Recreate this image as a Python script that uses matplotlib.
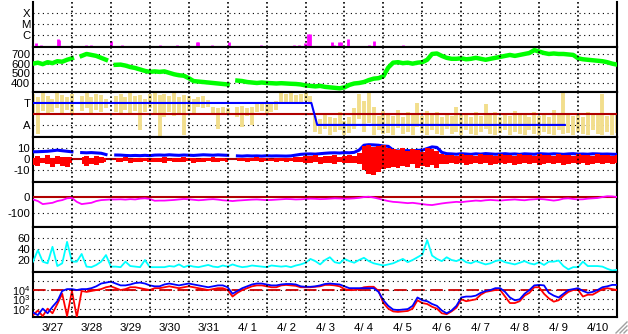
import numpy as np
import matplotlib
matplotlib.use('Agg')
import matplotlib.pyplot as plt
from matplotlib.lines import Line2D

plt.rcParams['font.family'] = ['Liberation Sans', 'DejaVu Sans']
plt.rcParams['mathtext.fontset'] = 'custom'
plt.rcParams['mathtext.rm'] = 'Liberation Sans'
plt.rcParams['mathtext.it'] = 'Liberation Sans'

nan = np.nan

# ---------------- data ----------------
# x axis: days since 3/27 00:00 ; 3-hourly samples for the continuous series
t3h = np.arange(121) * 0.125
day_labels = ['3/27', '3/28', '3/29', '3/30', '3/31', '4/ 1', '4/ 2', '4/ 3',
              '4/ 4', '4/ 5', '4/ 6', '4/ 7', '4/ 8', '4/ 9', '4/10']

# X-ray flare events (time in days, log10 peak flux)
flare_t = [0.08, 0.20, 0.64, 0.67, 1.37, 1.49, 2.00, 2.29, 3.25, 3.71, 4.20, 4.24,
           4.61, 5.03, 5.85, 6.70, 6.83, 6.98, 7.07, 7.11, 7.19, 7.25, 7.68, 7.73,
           7.86, 7.90, 8.10, 8.63, 8.76, 9.51]
flare_log = [-6.73, -6.95, -6.36, -6.45, -6.90, -6.90, -6.55, -6.95, -6.90, -6.90,
             -6.64, -6.60, -6.90, -6.60, -6.90, -6.95, -6.95, -6.73, -5.90, -5.90,
             -7.00, -7.00, -6.60, -6.90, -6.64, -6.64, -6.32, -6.95, -6.55, -6.95]
flare_labels = ['X', 'M', 'C']

# solar wind speed (km/s)
speed = [600, 610, 595, 615, 605, 625, 620, 640, 655,
         nan,
         680, 700, 690, 680, 660, 640,
         nan,
         588, 590, 580, 565, 555, 540, 525, 515,
         520, 515, 520, 505, 490, 480, 475, 450, 420, 415, 410, 405, 400, 395, 390, 385,
         nan,
         425, 420, 410, 405, 400, 405, 400, 398, 395, 398, 395, 392, 390, 385,
         375, 370, 365, 370, 360, 355, 350, 345, 355, 380, 395, 400, 410, 430, 445, 450, 470,
         560, 610, 615, 605, 610, 600, 610, 615, 640, 700, 705, 680,
         660, 650, 650, 655, 645, 650, 660, 650, 640, 650, 660, 670, 680, 690, 680, 690,
         700, 710, 740, 725, 710, 700, 705, 700, 700, 695, 690, 655, 645, 640, 635, 630,
         625, 615, 600, 590]
speed_ticks = [700, 600, 500, 400]

# IMF angle (T = toward +1, A = away -1): 3-hourly ranges
ang_hi = [1.8, 1.5, 1.9, 1.6, 1.4, 1.9, 1.7, 1.5, 1.8,
          nan,
          1.6, 1.9, 1.5, 1.8, 1.7, 1.4,
          nan,
          1.6, 1.8, 1.5, 1.9, 1.6, 1.7, 1.4, 1.8,
          1.9, 1.7, 1.8, 1.6, 1.9, 1.5, 1.7, 1.6,
          1.4, 1.5, 1.6, 1.3,
          0.6, 0.5, 0.6, 0.5,
          nan,
          0.6, 0.7, 0.5, 0.6,
          1.0, 1.1, 1.0, 0.9, 1.2,
          1.9, 1.8, 1.9, 1.7, 1.8, 1.9, 1.6,
          -0.2, -0.5, 0.1, -0.3, -0.4, 0.2, -0.6, -0.3, 0.5, 1.8, 1.2, 1.9, 0.6, -0.2, 0.3,
          0.1, -0.2, 0.4, -0.3, 0.2, -0.1, 1.0, -0.2, 0.3, -0.1, 0.2, -0.3, 0.0, -0.2,
          0.6, -0.1, 0.1, -0.3, 0.2, -0.2, 0.9, -0.1, 0.2, -0.3, 0.1, -0.2, 0.3, -0.1,
          0.0, -0.3, 0.2, -0.2, 0.1, -0.3, 0.4, -0.1, 1.9, 0.0, -0.2, 0.1, -0.3, 0.2,
          -0.1, 0.0, 1.8, -0.2, 0.1, -0.1]
ang_lo = [0.1, -1.8, 0.3, 0.0, 0.2, 0.5, 0.0, 0.4, 0.1,
          nan,
          0.3, 0.5, 0.0, 0.4, 0.2, 0.5,
          nan,
          0.2, 0.0, 0.4, 0.1, 0.3, -1.5, 0.2, 0.5,
          0.0, -2.0, -0.3, 0.2, -0.2, 0.1, -1.9, 0.3,
          0.0, 0.6, 0.5, 0.6,
          0.1, -1.4, 0.1, 0.0,
          nan,
          -0.3, -1.2, -0.2, -1.0,
          0.2, 0.3, 0.1, 0.2, 0.4,
          1.0, 1.1, 0.9, 1.0, 1.1, 1.2, 1.0,
          -1.6, -1.8, -1.4, -1.9, -1.6, -1.5, -1.9, -1.7, -1.4, -0.5, -1.6, -0.8, -1.9, -1.5, -1.8,
          -1.7, -1.9, -1.3, -1.8, -1.6, -1.9, -1.2, -1.7, -1.9, -1.5, -1.8, -1.9, -1.4, -1.8,
          -1.6, -1.9, -1.5, -1.8, -1.9, -1.6, -1.4, -1.8, -1.9, -1.7, -1.5, -1.9, -1.6, -1.8,
          -1.9, -1.5, -1.8, -1.9, -1.6, -1.8, -1.9, -1.5, -1.8, -1.7, -1.9, -1.6, -1.8, -1.9,
          -1.5, -1.8, -1.9, -1.6, -1.9, -1.7]
sector_t = [0.0, 7.15, 7.30, 13.66]
sector_v = [1, 1, -1, -1]
ang_labels = ['T', 'A']

# IMF |B| (nT)
bt = [6.5, 6.6, 6.8, 7.0, 7.5, 8.0, 7.5, 7.0, 6.5,
      nan,
      5.8, 5.6, 5.8, 5.5, 5.2, 4.0,
      nan,
      3.6, 3.5, 3.2, 3.0, 3.2, 3.0, 3.3, 3.0,
      3.5, 3.6, 3.4, 3.8, 3.5, 3.3, 3.6, 3.4, 3.2, 3.5, 3.8, 3.6, 3.4, 3.7, 3.5, 3.3,
      nan,
      2.8, 2.6, 2.9, 2.7, 2.8, 2.6, 2.9, 2.7, 2.8, 2.7, 2.6, 2.8, 3.5, 4.2,
      4.5, 4.6, 4.4, 4.8, 5.2, 5.5, 5.6, 5.4, 5.8, 5.6, 6.0,
      8.0, 12.5, 13.0, 12.8, 12.5, 11.8, 11.5,
      8.0, 7.2, 7.5, 7.6, 7.3, 7.8, 8.0, 9.5, 11.0, 10.5,
      6.0, 4.8,
      4.6, 4.3, 4.8, 4.5, 4.2, 4.7, 4.4, 4.9, 4.6, 4.3, 4.5, 4.8, 4.4, 4.6, 4.2, 4.7,
      4.5, 4.3, 4.8, 4.6, 4.4, 4.7, 4.5, 4.2, 4.6, 4.8, 4.4, 4.5, 4.3, 4.7, 4.6, 4.4,
      4.5, 4.3, 4.2]
# IMF Bz range per 3 h (nT)
bz_hi = [1.0, 2.5, 0.5, 4.0, 1.0, 3.0, 2.0, 1.5, 2.0,
         nan,
         2.0, 3.0, 1.0, 2.5, 1.5, 0.5,
         nan,
         1.0, 0.5, 1.5, 0.0, 1.0, 0.5, 1.0, 0.0,
         1.0, 0.5, 1.5, 0.0, 1.0, 0.5, 1.5, 0.5, 1.0, 0.0, 1.0, 0.5, 1.5, 0.5, 1.0, 0.0,
         nan,
         1.0, 0.5, 1.0, 0.5, 1.5, 0.5, 1.0, 0.0, 1.0, 0.5, 1.0, 0.5, 1.5, 2.0,
         3.0, 2.5, 3.5, 2.0, 3.0, 2.5, 3.5, 2.0, 3.0, 4.0, 3.0,
         5.0, 12.0, 13.0, 11.0, 12.0, 13.0, 10.0,
         9.0, 8.0, 10.0, 7.0, 9.0, 8.0, 6.0, 10.0, 9.0, 7.0,
         4.5, 3.5, 4.0, 3.0, 4.5, 3.5, 4.0, 3.0, 4.5, 3.5, 4.0, 3.0, 4.5, 3.5, 4.0, 3.0,
         4.5, 3.5, 4.0, 3.0, 4.5, 3.5, 4.0, 3.0, 4.5, 3.5, 4.0, 3.0, 4.5, 3.5, 4.0, 3.0,
         4.5, 3.5, 4.0, 3.0, 3.5]
bz_lo = [-5.5, -6.0, -4.0, -5.0, -7.0, -4.5, -6.5, -7.5, -4.0,
         nan,
         -5.0, -6.0, -4.5, -5.5, -4.0, -3.0,
         nan,
         -2.5, -3.0, -2.0, -3.5, -2.5, -3.0, -2.0, -3.0,
         -3.0, -2.5, -3.5, -2.0, -3.0, -2.5, -3.0, -2.0, -3.5, -2.5, -3.0, -2.0, -2.5, -3.0, -2.0, -3.0,
         nan,
         -2.0, -1.5, -2.5, -2.0, -1.5, -2.5, -2.0, -1.5, -2.5, -2.0, -3.0, -2.0, -2.5, -3.0,
         -3.5, -4.0, -3.0, -4.5, -3.5, -4.0, -4.5, -3.0, -4.0, -3.5, -4.0,
         -5.0, -10.0, -14.0, -15.0, -12.0, -9.0, -8.0,
         -7.0, -8.0, -6.0, -7.5, -5.0, -8.0, -6.0, -7.0, -5.5, -8.0,
         -5.0, -4.5, -3.5, -5.0, -4.0, -5.5, -4.5, -3.5, -5.0, -4.0, -5.5, -4.5, -3.5, -5.0, -4.0, -5.5,
         -4.5, -3.5, -5.0, -4.0, -5.5, -4.5, -3.5, -5.0, -4.0, -5.5, -4.5, -3.5, -5.0, -4.0, -5.5, -4.5,
         -3.5, -5.0, -4.0, -5.0, -4.0]
bz_ticks = [10, 0, -10]

# Dst index (nT)
dst = [-15, -25, -44, -40, -36, -25, -19, -8, -6,
       -30, -44, -40, -36, -25, -19, -17, -15, -15, -14, -16, -13, -15, -10, -8, -12, -23, -22,
       -22, -20, -18, -15, -12, -14, -17, -20, -18, -15, -13, -16, -20, -22,
       -25, -22, -20, -18, -16, -15, -17, -19, -18, -16, -14, -12, -13, -15, -14,
       -12, -10, -11, -13, -12, -10, -8, -9, -11, -10, -8, -5, 0, 2, -3, -10, -18,
       -25, -30, -32, -35, -38, -36, -40, -44, -48, -50, -45, -40, -36, -33, -30, -32, -28, -25,
       -22, -24, -20, -18, -20, -22, -19, -17, -15, -18, -20, -16, -14, -12, -14, -18, -22, -18,
       -10, -8, -12, -15, -14, -10, -8, -6, 0, 5, 4, 0]
dst_ticks = [0, -100]

# geomagnetic activity index
act = [17, 38, 17, 14, 44, 9, 14, 53, 17, 17, 31, 8, 7, 11, 17, 29, 8, 8, 7, 17, 9, 8, 7, 20, 7, 7, 7,
       7, 9, 8, 12, 7, 10, 8, 7, 9, 11, 8, 7, 10, 8,
       12, 9, 7, 8, 10, 9, 8, 7, 10, 9, 8, 9, 7, 10, 12,
       15, 22, 18, 12, 20, 25, 16, 14, 22, 18, 15, 20, 24, 18, 14, 12, 10,
       12, 14, 18, 22, 16, 20, 25, 30, 56, 28, 22, 18, 25, 20, 18, 22, 16, 14,
       18, 15, 12, 14, 18, 20, 16, 14, 12, 15, 18, 14, 12, 16, 11, 17, 17, 19, 9, 3,
       7, 7, 17, 9, 9, 9, 8, 4, 1, 2]
act_ticks = [60, 40, 20]

# electron flux, log10 (two satellites)
flux_blue = [1.6, 1.3, 2.0, 1.5, 2.2, 2.8, 3.9, 4.1, 4.1, 4.0, 4.1, 4.1, 4.2, 4.4, 4.7, 4.8,
             4.9, 4.7, 4.5, 4.5, 4.6, 4.75, 4.8, 4.7, 4.5, 4.4,
             4.4, 4.6, 4.7, 4.6, 4.5, 4.6, 4.7, 4.6, 4.5, 4.4, 4.3, 4.4, 4.5, 4.5, 4.3,
             3.6, 3.9, 4.2, 4.4, 4.6, 4.7, 4.7, 4.6, 4.5, 4.5, 4.6, 4.65, 4.65, 4.6, 4.4,
             4.35, 4.35, 4.4, 4.5, 4.65, 4.7, 4.65, 4.6, 4.4, 4.2, 4.2, 4.2, 4.2, 4.2, 4.2,
             3.8, 2.9, 2.3, 1.9, 1.85, 1.9, 1.95, 2.3, 3.2, 2.9, 2.8, 2.5, 2.3, 1.8, 1.5,
             1.8, 2.3, 3.2, 3.3, 3.3, 3.4, 3.7, 3.9, 4.0, 4.2, 4.2, 3.8, 3.2, 2.9, 3.0,
             3.6, 4.0, 4.5, 4.55, 4.5, 3.7, 3.4, 3.2, 3.6, 4.0, 4.1, 4.2, 3.9, 3.7, 3.8,
             4.0, 4.3, 4.4, 4.55, 4.55]
flux_red = [1.3, 1.8, 1.2, 2.0, 1.5, 2.5, 3.6, 1.2, 3.9, 1.1, 3.9, 3.8, 3.9, 4.0, 4.1, 4.3,
            4.4, 4.2, 4.0, 4.1, 4.3, 4.3, 4.2, 4.1, 4.0, 4.2,
            4.2, 4.3, 4.4, 4.3, 4.2, 4.3, 4.4, 4.3, 4.2, 4.1, 4.0, 4.1, 4.2, 4.2, 4.0,
            3.3, 3.7, 4.0, 4.2, 4.4, 4.5, 4.5, 4.4, 4.3, 4.3, 4.5, 4.55, 4.5, 4.45, 4.3,
            4.3, 4.3, 4.35, 4.4, 4.55, 4.55, 4.5, 4.4, 4.1, 4.0, 4.0, 4.1, 4.3, 4.35, 4.35,
            3.9, 2.6, 2.0, 1.7, 1.65, 1.7, 1.75, 2.0, 2.9, 2.6, 2.5, 2.2, 2.0, 1.5, 1.4,
            1.7, 2.1, 3.0, 2.8, 2.9, 3.0, 3.5, 3.8, 3.9, 4.0, 4.0, 3.3, 2.6, 2.6, 2.8,
            3.4, 3.7, 4.3, 4.3, 3.6, 3.1, 2.75, 2.9, 3.4, 3.8, 4.0, 4.0, 3.3, 3.5, 3.5,
            3.8, 4.1, 4.2, 4.1, 4.0]
flux_threshold = 1e4
flux_ticks = [1e4, 1e3, 1e2]
flux_grid = [1e5, 1e4, 1e3, 1e2]

# ---------------- drawing ----------------
W, H = 628, 334
fig = plt.figure(figsize=(W / 100, H / 100), dpi=100)
fig.patch.set_facecolor('white')

FS = 8.2
x0, x1 = 33, 617
tops = [2 + 45 * k for k in range(7)]
axes = []
for k, top in enumerate(tops):
    ax = fig.add_axes([x0 / W, 1 - (top + 45) / H, (x1 - x0) / W, 45 / H])
    ax.set_xlim(0, 15)
    ax.set_facecolor('white')
    for s in ax.spines.values():
        s.set_linewidth(1.5)
        s.set_color('black')
    if k == 0:
        ax.spines['top'].set_visible(False)
    ax.tick_params(axis='both', length=0, pad=2.0, labelsize=FS, colors='black')
    ax.set_xticks([])
    for d in range(1, 15):
        ax.axvline(d, color='black', lw=1.2, ls=(0, (1, 1.6)), zorder=6)
    axes.append(ax)

dot = dict(color='black', lw=0.8, ls=(0, (1, 3.2)), zorder=1)
darkred = '#B00000'

# 1: flares
ax = axes[0]
ax.set_yscale('log')
ax.set_ylim(10 ** -7.09, 10 ** -3.0)
flare_flux = [10 ** v for v in flare_log]
ax.vlines(flare_t, 10 ** -7.09, flare_flux, color='#FF00FF', lw=2.0, zorder=4)
ax.set_yticks([1e-4, 1e-5, 1e-6])
ax.set_yticklabels(flare_labels)
ax.yaxis.set_minor_locator(matplotlib.ticker.NullLocator())
for v in [1e-4, 1e-5, 1e-6]:
    ax.axhline(v, **dot)

# 2: speed
ax = axes[1]
ax.set_ylim(307, 772)
ax.plot(t3h, speed, color='#00FF00', lw=3.2, zorder=4)
ax.set_yticks(speed_ticks)
for v in speed_ticks:
    ax.axhline(v, **dot)

# 3: sector / angle
ax = axes[2]
ax.set_ylim(-2.1, 2.0)
hi = np.array(ang_hi)
lo = np.array(ang_lo)
m = ~np.isnan(hi)
ax.vlines(t3h[m], lo[m], hi[m], color='#F2DE8C', lw=2.8, zorder=2)
ax.axhline(-1, **dot)
ax.axhline(0, color=darkred, lw=1.5, zorder=4)
ax.plot(sector_t, sector_v, color='#0000FF', lw=1.5, zorder=5)
ax.set_yticks([1, -1])
ax.set_yticklabels(ang_labels)

# 4: IMF
ax = axes[3]
ax.set_ylim(-21, 20)
ax.plot(t3h, bt, color='#0000FF', lw=2.2, zorder=4)
ax.fill_between(t3h, bz_lo, bz_hi, step='mid', color='#FF0000', lw=0, zorder=5)
ax.axhline(0, color=darkred, lw=1.5, zorder=3)
for v in [10, -10]:
    ax.axhline(v, **dot)
ax.set_yticks(bz_ticks)
ax.set_yticklabels(['10', '0', '-10'])

# 5: Dst
ax = axes[4]
ax.set_ylim(-187, 94)
ax.axhline(0, color=darkred, lw=1.5, zorder=3)
ax.axhline(-100, **dot)
ax.plot(t3h, dst, color='#FF00FF', lw=1.3, zorder=4)
ax.set_yticks(dst_ticks)
ax.set_yticklabels(['0', '-100'])

# 6: activity
ax = axes[5]
ax.set_ylim(-1.8, 80)
for v in act_ticks:
    ax.axhline(v, **dot)
ax.plot(t3h, act, color='#00FFFF', lw=1.3, zorder=4)
ax.set_yticks(act_ticks)

# 7: flux
ax = axes[6]
ax.set_yscale('log')
ax.set_ylim(10 ** 1.10, 10 ** 5.94)
for v in flux_grid:
    ax.axhline(v, **dot)
ax.axhline(flux_threshold, color='#CC0000', lw=1.3, ls=(0, (7, 3)), zorder=3)
ax.plot(t3h, [10 ** v for v in flux_red], color='#FF0000', lw=1.3, zorder=4)
ax.plot(t3h, [10 ** v for v in flux_blue], color='#0000FF', lw=1.3, zorder=5)
ax.set_yticks(flux_ticks)
ax.set_yticklabels([r'$10^4$', r'$10^3$', r'$10^2$'], fontsize=7.8)
ax.yaxis.set_minor_locator(matplotlib.ticker.NullLocator())
ax.set_xticks([d + 0.5 for d in range(15)])
ax.set_xticklabels(day_labels)
ax.tick_params(axis='x', length=0, pad=4, labelsize=FS)

# window resize grip (bottom-right)
for off in [4, 8, 12]:
    fig.add_artist(Line2D([(W - off) / W, (W - 1) / W], [1 / H, off / H],
                          color='#A0A0A0', lw=1.0, transform=fig.transFigure))

fig.savefig('out.png', dpi=100, facecolor='white')
